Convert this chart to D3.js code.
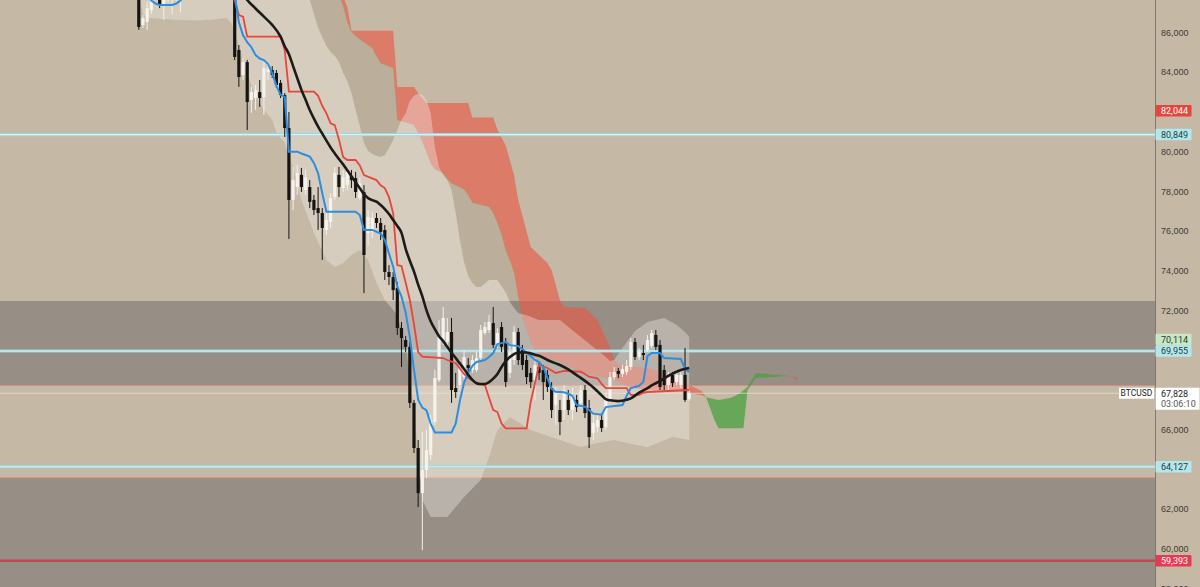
<!DOCTYPE html>
<html>
<head>
<meta charset="utf-8">
<script src="https://cdn.jsdelivr.net/npm/d3@7"></script>
<style>
  html, body { margin: 0; padding: 0; background: #c5b9a5; overflow: hidden; }
  svg { display: block; }
</style>
</head>
<body>
<svg id="chart"></svg>
<script>
// BTCUSD bars, one row per bar: open, high, low, close
const candles = [
  [88400,88600,86120,86270],[86370,86870,86220,86720],[86520,87530,86120,87220],[87120,88100,86920,87900],
  [87900,88300,87700,88100],[87700,87900,87220,87370],[87400,88100,86620,87900],[87900,88400,87500,88200],
  [88200,88500,86900,88300],[88300,88700,87600,88500],[88500,88800,87000,88600],[88600,89000,88000,88800],
  [88800,89200,88300,89000],[89000,89400,88500,89200],[89200,89600,88800,89300],[89300,89700,88900,89100],
  [89100,89500,88700,89400],[89400,89800,89000,89600],[89600,90000,89200,89500],[89500,89900,89100,89700],
  [89700,90100,89300,89400],[89400,89800,89000,89300],[89300,89600,88900,89200],[89200,89400,84600,84760],
  [85110,85360,83250,83750],[83850,84710,83600,84500],[84500,84610,81080,82490],[82590,83250,81940,82990],
  [82690,83350,82090,83090],[82990,83600,82240,82690],[82740,84500,81840,84200],[84000,84400,83600,84150],
  [84100,84300,83700,83850],[83950,84100,83200,83350],[83450,83600,82690,82840],[82840,82940,80730,81180],
  [81180,81990,75590,77560],[77560,79220,77050,78560],[78210,79320,77810,78920],[78820,79170,77960,78210],
  [78060,79070,77810,78710],[78210,78560,77150,77460],[77560,77810,76800,77050],[77150,78210,76050,76900],
  [76900,77150,74540,76150],[76050,76900,75790,76550],[76450,77910,76150,77660],[77710,79220,77560,78920],
  [78820,79220,77710,78210],[78160,79070,77960,78710],[78310,79170,78060,78970],[78760,79070,78160,78560],
  [78660,78970,77660,77960],[77660,78660,77560,78410],[77960,78310,72870,74790],[75890,77050,75290,76700],
  [75950,76950,75640,76650],[76650,76900,76150,76400],[76400,76650,75540,75950],[76050,76300,73530,73930],
  [73930,74280,73280,73680],[73680,73930,72520,73020],[73130,73430,70760,71110],[71110,71410,69150,70610],
  [70510,70710,69900,70160],[70160,70410,67080,67340],[67340,67490,64820,65070],[65070,65470,62100,62800],
  [62800,65880,59930,63960],[63960,65980,63560,64970],[64720,66730,64470,66480],[66380,69000,66230,68590],
  [68490,71510,68390,70660],[70410,72170,70260,71620],[70410,71620,70210,70910],[70910,71620,67340,67990],
  [68090,68850,67590,67890],[68240,69500,67990,69100],[68640,70000,68490,69650],[69250,69600,68900,69100],
  [69000,69750,68850,69500],[69000,69900,68900,69600],[69600,71260,69500,71010],[70860,71410,70760,71160],
  [71010,71770,70860,71410],[71360,72170,70100,70260],[70260,71110,70100,70860],[71160,71410,69900,70160],
  [70360,70610,68140,68390],[68850,70260,68590,69900],[69500,71210,69250,70910],[70910,71110,69250,69500],
  [70000,70260,69000,69250],[69500,69750,68290,68640],[68850,69100,68090,68390],[68490,69600,67490,69250],
  [69150,69400,68490,68850],[69000,69250,67490,68390],[68750,69000,67890,68140],[68090,68390,66580,66980],
  [67230,68140,66230,67840],[66980,67490,65720,66380],[66980,68240,66480,67990],[67490,67990,66730,66980],
  [66980,68090,66480,67740],[67490,67740,66880,67130],[67340,68240,67080,67990],[67990,68240,66580,66830],
  [67080,67490,65070,65620],[65830,66730,65470,66330],[66130,66830,65880,66480],[66480,66730,65880,66080],
  [66130,67840,65980,67640],[67490,68900,67340,68640],[68640,69150,68490,68900],[68950,69100,68590,68800],
  [68800,69250,68640,69050],[68900,69500,68740,69200],[69150,70610,69000,70410],[70410,70610,69500,69650],
  [69650,70100,69500,69900],[69850,70260,69500,69750],[70000,70760,69900,70510],[70210,71010,70100,70860],
  [70760,71010,70000,70160],[70260,70510,67990,68140],[69000,69250,67990,68240],[68240,68900,67990,68750],
  [68750,68900,68140,68340],[68390,69000,68240,68750],[68240,69000,68090,68750],[68750,70100,67390,67490],
  [67540,67990,67440,67828]
];

// indicator lines as [bar index, price]
const tenkan = [
  [2,87900],[3,87600],[4,87450],[5,87380],[8,87380],[9,87450],[10,87600],[11,88000],[12,88400],[22,88600],
  [23,87900],[24,86500],[25,85850],[26,85500],[27,85250],[28,84850],[29,84680],[30,84600],[31,84400],
  [32,83950],[33,83300],[34,82850],[35,82750],[36,79990],[38,79990],[39,79900],[40,79820],[41,79740],
  [42,79420],[43,78900],[44,77900],[45,76970],[52,76970],[53,76800],[54,76050],[56,76050],[57,75960],
  [58,75870],[59,75540],[60,74860],[61,74200],[62,73200],[63,72700],[64,71900],[65,70650],[66,69000],
  [67,67500],[68,67100],[69,66960],[70,66300],[71,65850],[75,65850],[76,66300],[77,67450],[78,68350],
  [79,68850],[80,69200],[81,69400],[83,69500],[84,69650],[85,69850],[86,70300],[87,70350],[88,70400],
  [89,70250],[91,70200],[92,70050],[93,69870],[94,69700],[95,69500],[96,69400],[97,69150],[98,68600],
  [99,68050],[100,67900],[102,67880],[103,67800],[104,67700],[105,67230],[107,67150],[108,66980],
  [109,66800],[111,66750],[112,67130],[116,67230],[117,67700],[118,68090],[120,68200],[121,68400],
  [122,69700],[123,69850],[125,69850],[126,69600],[130,69550],[131,69050],[132,68900]
];
const kijun = [
  [15,89000],[22,88400],[23,87600],[24,86870],[25,86790],[26,85780],[34,85780],[35,85110],[36,83010],
  [42,83010],[43,82800],[44,82300],[45,81920],[46,81420],[47,81330],[48,80600],[49,79720],[50,79570],
  [52,79570],[53,79300],[54,78810],[57,78560],[58,78300],[59,78160],[60,77700],[61,76890],[62,74280],
  [63,74230],[64,73400],[65,72520],[66,71300],[67,69900],[68,69670],[73,69600],[74,69500],[75,69420],
  [76,69340],[77,69080],[78,68800],[79,68600],[81,68330],[82,68280],[83,68240],[84,67600],[85,66980],
  [86,66880],[87,66300],[88,66060],[93,66060],[94,67400],[95,68330],[96,69250],[98,69100],[100,68850],
  [102,68950],[106,68910],[107,68800],[108,68660],[110,68580],[111,68300],[112,68080],[117,68080],
  [118,67740],[120,67740],[121,67850],[122,67890],[132,67990]
];
const trendMA = [
  [20,89200],[24,88300],[26,87630],[28,87200],[30,86790],[32,86370],[34,85780],[35,85300],[36,84900],
  [37,84300],[38,83700],[39,83100],[40,82600],[41,82090],[42,81650],[43,81250],[44,80900],[45,80550],
  [46,80200],[47,79900],[48,79620],[49,79350],[50,79050],[51,78750],[52,78450],[53,78150],[54,77850],
  [55,77650],[56,77550],[57,77470],[58,77300],[59,77100],[60,76850],[61,76550],[62,76250],[63,75900],
  [64,75100],[65,74500],[66,73950],[67,73300],[68,72700],[69,72000],[70,71450],[71,71050],[72,70700],
  [73,70450],[74,70150],[75,69870],[76,69600],[77,69330],[78,69050],[79,68750],[80,68500],[81,68330],
  [82,68290],[83,68290],[84,68390],[85,68560],[86,68800],[87,69150],[88,69450],[89,69650],[90,69800],
  [91,69880],[93,69880],[94,69830],[95,69770],[96,69710],[98,69500],[100,69330],[101,69250],[103,69030],
  [105,68740],[106,68600],[107,68450],[108,68290],[109,68120],[110,67920],[111,67720],[112,67530],
  [113,67470],[115,67430],[117,67500],[118,67570],[120,67860],[122,68080],[123,68220],[125,68440],
  [127,68700],[130,69000],[132,69100]
];
// cloud spans, already shifted forward 26 bars
const senkouA = [
  [47,88600],[48,87900],[49,87300],[50,86500],[51,86000],[52,85800],[56,85200],[57,84800],[58,84440],
  [61,84190],[62,81580],[66,81330],[68,80500],[69,79930],[70,79400],[71,79100],[73,78900],[74,78600],
  [75,78400],[78,78100],[79,77800],[80,77420],[84,77200],[85,76900],[86,76400],[87,75800],[88,75000],
  [89,74500],[90,73900],[91,72700],[92,71600],[94,70400],[96,69650],[101,69400],[106,68890],[111,68640],
  [114,68490],[118,68090],[123,67990],[131,67890],[135,67720],[136,67640],[139,67490],[142,67600],
  [144,67800],[146,68150],[148,68850],[156,68700],[158,68480]
];
const senkouB = [
  [47,88600],[49,87800],[50,87300],[51,86080],[61,86080],[62,83250],[66,83250],[67,82930],[69,82440],
  [79,82440],[80,81710],[85,81710],[86,81100],[88,80300],[90,78800],[91,77560],[94,75190],[98,74380],
  [99,74030],[101,72520],[102,72170],[107,72120],[110,71510],[113,70150],[114,69500],[115,69250],
  [122,69100],[126,68800],[131,68340],[135,67940],[136,67640],[137,67100],[138,66500],[139,66060],
  [145,66060],[146,67990],[148,68590],[156,68690],[158,68640]
];
// envelope around price
const bandUpper = [
  [0,90000],[38,88600],[41,87630],[42,86920],[43,86220],[44,85760],[45,85310],[46,85010],[47,84810],
  [48,84500],[49,83950],[50,83550],[51,82940],[52,82090],[53,81280],[54,80430],[55,80020],[56,79870],
  [57,79770],[58,79720],[59,79820],[60,80170],[61,80580],[62,81080],[63,81580],[64,81930],[65,82540],
  [66,82800],[67,82900],[68,82850],[69,82590],[70,81940],[71,80230],[72,79220],[73,78800],[74,78560],
  [75,78060],[76,76900],[77,75540],[78,74430],[79,73730],[80,73380],[81,73180],[82,73180],[84,73530],
  [86,73530],[88,72900],[89,72420],[90,72120],[91,71870],[93,71760],[96,71510],[101,71510],[106,70660],
  [109,70150],[112,69650],[113,69450],[114,69500],[116,70100],[119,70960],[122,71410],[126,71620],
  [129,71260],[131,70910],[132,70660]
];
const bandLower = [
  [0,87800],[1,86900],[2,86720],[6,86670],[10,86620],[14,86600],[18,86650],[21,86720],[22,86500],
  [23,86100],[24,85300],[25,84600],[26,84000],[27,83350],[28,82850],[30,82090],[32,81580],[33,80930],
  [35,80430],[37,79220],[39,77560],[42,75900],[45,74540],[47,74180],[49,74380],[51,74790],[53,75040],
  [55,74540],[57,73380],[59,72520],[62,71770],[64,70260],[65,68750],[66,66980],[67,64720],[68,62450],
  [70,61600],[74,61600],[78,62600],[82,63460],[84,64620],[86,65980],[89,66630],[94,65980],[101,65470],
  [106,65120],[110,65320],[114,65470],[117,65320],[122,65120],[128,65620],[132,65470]
];

const zoneTops = [72470, 63570];
const zoneBottoms = [68220, 50000];
const levels = [80849, 69955, 64127];
const supportLevel = 59393;
const labelValues = [82044, 80849, 70114, 69955, 64127, 59393];
const labelKinds = ['red', 'cyan', 'green', 'cyan', 'cyan', 'rose'];
const lastPrice = 67828;
const countdown = '03:06:10';
const symbol = 'BTCUSD';

(function(){
  const W = 1200, H = 587, plotW = 1155;

  const x = d3.scaleLinear().domain([0, candles.length - 1]).range([138.8, 689.2]);
  const y = d3.scaleLinear().domain([60000, 86000]).range([548.7, 32.3]);

  const svg = d3.select('svg#chart')
      .attr('width', W)
      .attr('height', H)
      .style('font-family', 'Roboto, "Liberation Sans", sans-serif');

  const defs = svg.append('defs');
  defs.append('clipPath').attr('id', 'plot-clip')
    .append('rect').attr('width', plotW).attr('height', H);

  svg.append('rect').attr('width', W).attr('height', H).attr('fill', '#c5b9a5');

  const plot = svg.append('g').attr('clip-path', 'url(#plot-clip)');

  const line = d3.line().x(d => x(d[0])).y(d => y(d[1]));
  const band = (upper, lower) => line(upper) + line(lower.slice().reverse()).replace(/^M/, 'L') + 'Z';
  const toEdge = (pts, edgeY) => line(pts) +
      `L${x(pts[pts.length - 1][0])},${edgeY}L${x(pts[0][0])},${edgeY}Z`;

  // grey zones, edge facing the price gets a thin rose border
  zoneTops.forEach((top, k) => {
    const bottom = zoneBottoms[k];
    plot.append('rect')
        .attr('x', 0)
        .attr('width', plotW)
        .attr('y', y(top))
        .attr('height', y(bottom) - y(top))
        .attr('fill', '#978f85');
    const edge = top > lastPrice ? bottom : top;
    plot.append('line').attr('x1', 0).attr('x2', plotW).attr('y1', y(edge)).attr('y2', y(edge))
        .attr('stroke', 'rgba(226,128,114,0.6)').attr('stroke-width', 1);
  });

  // darker strip between the envelope and the cloud
  defs.append('clipPath').attr('id', 'above-band').append('path').attr('d', toEdge(bandUpper, -60));
  const darkTop = [[38, 95000], [46, 95000]].concat(senkouA.filter(d => d[0] <= 93));
  plot.append('path')
      .attr('d', toEdge(darkTop, 700))
      .attr('clip-path', 'url(#above-band)')
      .attr('fill', 'rgba(105,88,66,0.10)');

  // cloud: red where B is above A, green otherwise
  defs.append('clipPath').attr('id', 'above-a').append('path').attr('d', toEdge(senkouA, -60));
  defs.append('clipPath').attr('id', 'below-a').append('path').attr('d', toEdge(senkouA, 700));
  const cloud = band(senkouB, senkouA);
  plot.append('path').attr('d', cloud).attr('clip-path', 'url(#above-a)').attr('fill', 'rgba(235,85,68,0.62)');
  plot.append('path').attr('d', cloud).attr('clip-path', 'url(#below-a)').attr('fill', 'rgba(72,160,64,0.75)');

  // envelope
  plot.append('path')
      .attr('d', band(bandUpper, bandLower))
      .attr('fill', 'rgba(243,241,235,0.36)');

  // horizontal levels
  levels.forEach(v => {
    plot.append('line').attr('x1', 0).attr('x2', plotW).attr('y1', y(v)).attr('y2', y(v))
        .attr('stroke', '#9fd6dd').attr('stroke-width', 3.2);
    plot.append('line').attr('x1', 0).attr('x2', plotW).attr('y1', y(v)).attr('y2', y(v))
        .attr('stroke', '#d4f3f6').attr('stroke-width', 1.2);
  });
  plot.append('line').attr('x1', 0).attr('x2', plotW).attr('y1', y(supportLevel)).attr('y2', y(supportLevel))
      .attr('stroke', '#b44c52').attr('stroke-width', 2.6);
  plot.append('line').attr('x1', 0).attr('x2', plotW).attr('y1', y(lastPrice)).attr('y2', y(lastPrice))
      .attr('stroke', 'rgba(236,230,218,0.7)').attr('stroke-width', 1);

  // candles
  const bodyW = 3.2;
  const up = d => d[3] >= d[0];
  const bars = plot.append('g').selectAll('g').data(candles).join('g');
  bars.append('line')
      .attr('x1', (d, i) => x(i)).attr('x2', (d, i) => x(i))
      .attr('y1', d => y(d[1])).attr('y2', d => y(d[2]))
      .attr('stroke', d => up(d) ? '#f2f0ea' : '#151412')
      .attr('stroke-width', 1);
  bars.append('rect')
      .attr('x', (d, i) => x(i) - bodyW / 2)
      .attr('y', d => y(Math.max(d[0], d[3])))
      .attr('width', bodyW)
      .attr('height', d => Math.max(1, Math.abs(y(d[0]) - y(d[3]))))
      .attr('fill', d => up(d) ? '#f4f2ed' : '#151412');

  // indicator lines
  plot.append('path').attr('d', line(kijun)).attr('fill', 'none')
      .attr('stroke', '#e8453b').attr('stroke-width', 1.8);
  plot.append('path').attr('d', line(tenkan)).attr('fill', 'none')
      .attr('stroke', '#2a8ee2').attr('stroke-width', 2);
  const smooth = d3.line().x(d => x(d[0])).y(d => y(d[1])).curve(d3.curveMonotoneX);
  plot.append('path').attr('d', smooth(trendMA)).attr('fill', 'none')
      .attr('stroke', '#1d1b18').attr('stroke-width', 2.6);

  // price axis
  svg.append('line').attr('x1', plotW + 0.5).attr('x2', plotW + 0.5).attr('y1', 0).attr('y2', H)
      .attr('stroke', '#7f786e').attr('stroke-width', 1);

  const boxH = 11.5;
  const labels = labelValues.map((v, k) => ({v: v, kind: labelKinds[k], y: y(v), h: boxH}))
      .sort((a, b) => a.y - b.y);
  for (let k = labels.length - 2; k >= 0; k--) {
    if (labels[k + 1].y - labels[k].y < boxH) labels[k].y = labels[k + 1].y - boxH;
  }
  const py = y(lastPrice);
  // ticks hidden where a tag sits on top of them
  const taken = labels.map(d => [d.y - boxH / 2 - 4, d.y + boxH / 2 + 4]).concat([[py - 9, py + 20]]);
  const ticks = d3.range(58000, 86001, 2000).filter(t => !taken.some(r => y(t) > r[0] && y(t) < r[1]));

  const axis = d3.axisRight(y)
      .tickValues(ticks)
      .tickFormat(d3.format(','))
      .tickSize(0)
      .tickPadding(6);
  const gAxis = svg.append('g').attr('transform', `translate(${plotW},0)`).call(axis);
  gAxis.select('.domain').remove();
  gAxis.selectAll('text').attr('fill', '#3f3a35').attr('font-size', 9).attr('font-family', null);

  const kindStyle = {
    red:   {bg: '#e5453d', fg: '#ffffff'},
    rose:  {bg: '#e53b52', fg: '#ffffff'},
    cyan:  {bg: '#b3e7ec', fg: '#1f3d42'},
    green: {bg: '#c9e7c3', fg: '#24402a'}
  };
  const fmt = d3.format(',');
  const tag = svg.append('g').selectAll('g').data(labels).join('g')
      .attr('transform', d => `translate(${plotW + 0.5},${d.y})`);
  tag.append('rect')
      .attr('x', 0).attr('y', -boxH / 2).attr('width', 36).attr('height', boxH)
      .attr('rx', 1)
      .attr('fill', d => kindStyle[d.kind].bg);
  tag.append('text')
      .attr('x', 5.5).attr('dy', '0.34em')
      .attr('font-size', 9)
      .attr('fill', d => kindStyle[d.kind].fg)
      .text(d => fmt(d.v));

  // last price tag with countdown
  const last = svg.append('g').attr('transform', `translate(${plotW + 0.5},${py})`);
  last.append('rect').attr('x', 0).attr('y', -5.5).attr('width', 44).attr('height', 22).attr('fill', '#ffffff');
  last.append('text').attr('x', 5.5).attr('y', 0.5).attr('dy', '0.34em').attr('font-size', 9)
      .attr('fill', '#222').text(fmt(lastPrice));
  last.append('text').attr('x', 5.5).attr('y', 11).attr('dy', '0.34em').attr('font-size', 9)
      .attr('fill', '#555').text(countdown);

  const sym = svg.append('g').attr('transform', `translate(${plotW - 36},${py})`);
  sym.append('rect').attr('x', 0).attr('y', -5.5).attr('width', 35).attr('height', 11).attr('fill', '#ffffff');
  sym.append('text').attr('x', 17.5).attr('dy', '0.34em').attr('text-anchor', 'middle')
      .attr('font-size', 8.5).attr('fill', '#222').text(symbol);
})();
</script>
</body>
</html>
